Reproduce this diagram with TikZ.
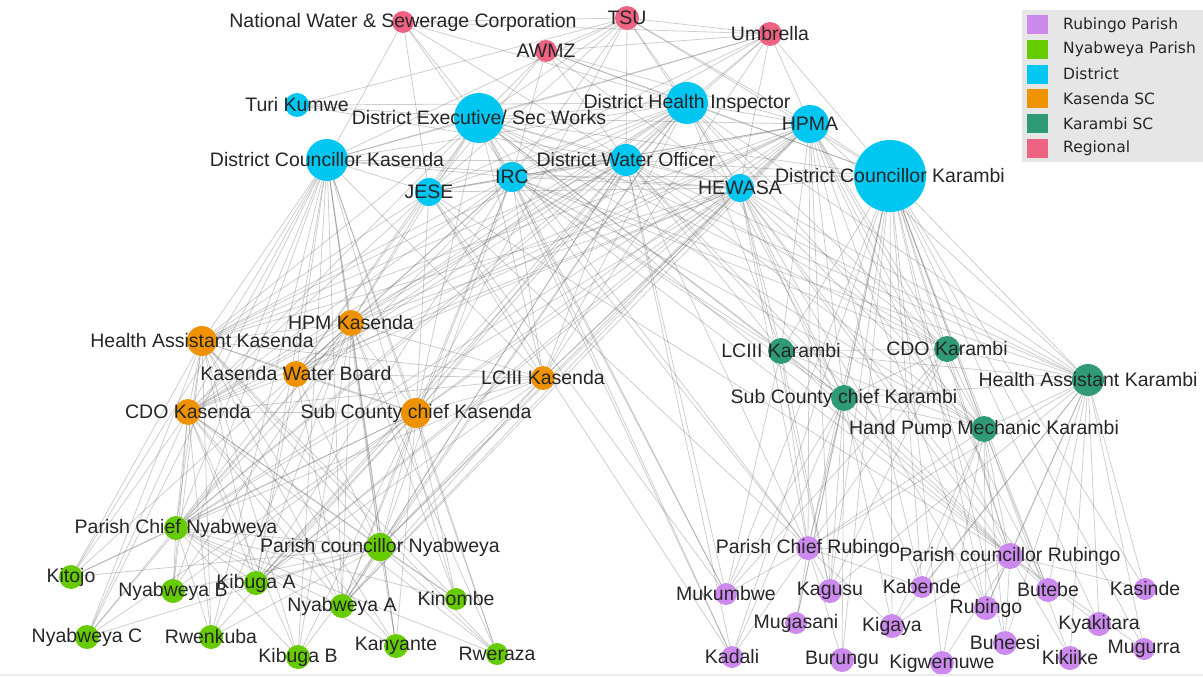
\documentclass[tikz,border=0pt]{standalone}
\usepackage{fontspec}
\setmainfont{Liberation Sans}
\newfontfamily\keyfont{DejaVu Sans}
\usetikzlibrary{backgrounds}
\definecolor{rub}{HTML}{CC8AEE}
\definecolor{nya}{HTML}{66CC00}
\definecolor{dis}{HTML}{00C6F2}
\definecolor{kas}{HTML}{EF9200}
\definecolor{kar}{HTML}{2E9A76}
\definecolor{reg}{HTML}{EE6282}
\definecolor{txt}{HTML}{262626}
\definecolor{keybg}{HTML}{E6E6E6}
\tikzset{
  vtx/.style  ={circle, inner sep=0pt, draw=none, minimum size=#1},
  rg/.style   ={vtx=#1, fill=reg},
  ds/.style   ={vtx=#1, fill=dis},
  ks/.style   ={vtx=#1, fill=kas},
  kr/.style   ={vtx=#1, fill=kar},
  ny/.style   ={vtx=#1, fill=nya},
  rb/.style   ={vtx=#1, fill=rub},
  lbl/.style  ={font=\fontsize{19.5}{21}\selectfont, text=txt, inner sep=0pt},
  tie/.style  ={draw=black!60, line width=.8pt, opacity=.32},
  swatch/.style={minimum width=21pt, minimum height=19pt, inner sep=0pt},
  keytxt/.style={font=\keyfont\fontsize{15.5}{17}\selectfont, text=txt, inner sep=0pt, anchor=west},
}

\begin{document}
\begin{tikzpicture}[x=1pt,y=-1pt]
  \useasboundingbox (0,0) rectangle (1203,677);
  % regional
  \node[rg=22pt, label={[lbl]center:National Water \& Sewerage Corporation}](nwsc) at (403,22) {};
  \node[rg=24pt, label={[lbl]center:TSU}](tsu) at (627,18) {};
  \node[rg=22pt, label={[lbl]center:AWMZ}](awmz) at (546,51) {};
  \node[rg=24pt, label={[lbl]center:Umbrella}](umb) at (770,34) {};
  % district
  \node[ds=24pt, label={[lbl]center:Turi Kumwe}](turi) at (297,105) {};
  \node[ds=50pt, label={[lbl]center:District Executive/ Sec Works}](dexec) at (479,118) {};
  \node[ds=42pt, label={[lbl]center:District Health Inspector}](dhi) at (687,103) {};
  \node[ds=38pt, label={[lbl]center:HPMA}](hpma) at (810,124) {};
  \node[ds=42pt, label={[lbl]center:District Councillor Kasenda}](dck) at (327,160) {};
  \node[ds=32pt, label={[lbl]center:District Water Officer}](dwo) at (626,160) {};
  \node[ds=30pt, label={[lbl]center:IRC}](irc) at (512,177) {};
  \node[ds=28pt, label={[lbl]center:JESE}](jese) at (429,192) {};
  \node[ds=28pt, label={[lbl]center:HEWASA}](hewasa) at (740,188) {};
  \node[ds=72pt, label={[lbl]center:District Councillor Karambi}](dckar) at (890,176) {};
  % Kasenda SC
  \node[ks=30pt, label={[lbl]center:Health Assistant Kasenda}](hak) at (202,341) {};
  \node[ks=26pt, label={[lbl]center:HPM Kasenda}](hpmk) at (351,323) {};
  \node[ks=26pt, label={[lbl]center:Kasenda Water Board}](kwb) at (296,374) {};
  \node[ks=24pt, label={[lbl]center:LCIII Kasenda}](lck) at (543,378) {};
  \node[ks=26pt, label={[lbl]center:CDO Kasenda}](cdok) at (188,412) {};
  \node[ks=30pt, label={[lbl]center:Sub County chief Kasenda}](sck) at (416,413) {};
  % Karambi SC
  \node[kr=26pt, label={[lbl]center:LCIII Karambi}](lcr) at (781,351) {};
  \node[kr=26pt, label={[lbl]center:CDO Karambi}](cdor) at (947,349) {};
  \node[kr=32pt, label={[lbl]center:Health Assistant Karambi}](har) at (1088,380) {};
  \node[kr=26pt, label={[lbl]center:Sub County chief Karambi}](scr) at (844,398) {};
  \node[kr=26pt, label={[lbl]center:Hand Pump Mechanic Karambi}](hpmr) at (984,429) {};
  % Nyabweya parish
  \node[ny=24pt, label={[lbl]center:Parish Chief Nyabweya}](pcn) at (176,528) {};
  \node[ny=28pt, label={[lbl]center:Parish councillor Nyabweya}](pcln) at (380,547) {};
  \node[ny=24pt, label={[lbl]center:Kitojo}](kitojo) at (71,577) {};
  \node[ny=24pt, label={[lbl]center:Nyabweya B}](nyab) at (173,591) {};
  \node[ny=24pt, label={[lbl]center:Kibuga A}](kiba) at (256,583) {};
  \node[ny=24pt, label={[lbl]center:Nyabweya A}](nyaa) at (342,606) {};
  \node[ny=22pt, label={[lbl]center:Kinombe}](kinombe) at (456,599) {};
  \node[ny=24pt, label={[lbl]center:Nyabweya C}](nyac) at (87,637) {};
  \node[ny=24pt, label={[lbl]center:Rwenkuba}](rwenkuba) at (211,637) {};
  \node[ny=24pt, label={[lbl]center:Kibuga B}](kibb) at (298,657) {};
  \node[ny=24pt, label={[lbl]center:Kanyante}](kanyante) at (396,646) {};
  \node[ny=22pt, label={[lbl]center:Rweraza}](rweraza) at (497,654) {};
  % Rubingo parish
  \node[rb=24pt, label={[lbl]center:Parish Chief Rubingo}](pcr) at (808,548) {};
  \node[rb=26pt, label={[lbl]center:Parish councillor Rubingo}](pclr) at (1010,556) {};
  \node[rb=22pt, label={[lbl]center:Mukumbwe}](mukumbwe) at (726,594) {};
  \node[rb=24pt, label={[lbl]center:Kagusu}](kagusu) at (830,591) {};
  \node[rb=22pt, label={[lbl]center:Kabende}](kabende) at (922,587) {};
  \node[rb=24pt, label={[lbl]center:Butebe}](butebe) at (1048,590) {};
  \node[rb=22pt, label={[lbl]center:Kasinde}](kasinde) at (1145,589) {};
  \node[rb=24pt, label={[lbl]center:Rubingo}](rubingo) at (986,608) {};
  \node[rb=22pt, label={[lbl]center:Mugasani}](mugasani) at (796,623) {};
  \node[rb=24pt, label={[lbl]center:Kigaya}](kigaya) at (892,626) {};
  \node[rb=24pt, label={[lbl]center:Kyakitara}](kyakitara) at (1099,624) {};
  \node[rb=24pt, label={[lbl]center:Buheesi}](buheesi) at (1005,643) {};
  \node[rb=22pt, label={[lbl]center:Mugurra}](mugurra) at (1144,649) {};
  \node[rb=22pt, label={[lbl]center:Kadali}](kadali) at (732,657) {};
  \node[rb=24pt, label={[lbl]center:Burungu}](burungu) at (842,660) {};
  \node[rb=24pt, label={[lbl]center:Kigwemuwe}](kigwemuwe) at (942,663) {};
  \node[rb=24pt, label={[lbl]center:Kikiike}](kikiike) at (1070,658) {};

  \begin{scope}[on background layer]
    % regional ties
    \foreach \b in {tsu,dck,dexec,jese,irc,dwo,dhi,umb} \draw[tie](nwsc)--(\b);
    \foreach \b in {awmz,umb,dexec,dhi,dwo,irc,jese,hewasa,hpma,dckar,turi,dck,sck} \draw[tie](tsu)--(\b);
    \foreach \b in {umb,dexec,dhi,dwo,irc,jese,hewasa,hpma,dckar} \draw[tie](awmz)--(\b);
    \foreach \b in {dexec,dhi,dwo,irc,jese,hewasa,hpma,dckar,dck,lck} \draw[tie](umb)--(\b);
    % district among themselves
    \foreach \b in {turi,dck,dhi,dwo,irc,jese,hewasa,hpma,dckar} \draw[tie](dexec)--(\b);
    \foreach \b in {turi,dck,dwo,irc,jese,hewasa,hpma,dckar} \draw[tie](dhi)--(\b);
    \foreach \b in {dck,irc,jese,hewasa,hpma,dckar,turi} \draw[tie](dwo)--(\b);
    \foreach \b in {dck,jese,hewasa,hpma,dckar} \draw[tie](irc)--(\b);
    \foreach \b in {dck,hewasa,hpma} \draw[tie](jese)--(\b);
    \foreach \b in {hpma,dckar,dck} \draw[tie](hewasa)--(\b);
    \draw[tie](hpma)--(dckar);
    % district to sub counties
    \foreach \a in {dexec,dhi,dwo,irc,jese,hewasa,hpma,dck}
      \foreach \b in {hak,hpmk,kwb,lck,cdok,sck}
        \draw[tie](\a)--(\b);
    \foreach \a in {dexec,dhi,dwo,irc,hewasa,hpma,dckar}
      \foreach \b in {lcr,cdor,har,scr,hpmr}
        \draw[tie](\a)--(\b);
    % councillor fans
    \foreach \b in {pcn,pcln,kitojo,nyab,kiba,nyaa,kinombe,nyac,rwenkuba,kibb,kanyante,rweraza}
      \draw[tie](dck)--(\b);
    \foreach \b in {pcr,pclr,mukumbwe,kagusu,kabende,butebe,kasinde,rubingo,mugasani,kigaya,kyakitara,buheesi,mugurra,kadali,burungu,kigwemuwe,kikiike}
      \draw[tie](dckar)--(\b);
    % Kasenda SC inside and down
    \foreach \a/\b in {hak/hpmk,hak/kwb,hak/lck,hak/cdok,hak/sck,hpmk/kwb,hpmk/lck,hpmk/cdok,hpmk/sck,kwb/lck,kwb/cdok,kwb/sck,lck/cdok,lck/sck,cdok/sck}
      \draw[tie](\a)--(\b);
    \foreach \a in {hak,cdok,sck,hpmk}
      \foreach \b in {pcn,pcln,kitojo,nyab,kiba,nyaa,kinombe,nyac,rwenkuba,kibb,kanyante,rweraza}
        \draw[tie](\a)--(\b);
    \foreach \a in {kwb,lck}
      \foreach \b in {pcn,pcln,kiba,nyaa}
        \draw[tie](\a)--(\b);
    % Karambi SC inside and down
    \foreach \a/\b in {lcr/cdor,lcr/har,lcr/scr,lcr/hpmr,cdor/har,cdor/scr,cdor/hpmr,har/scr,har/hpmr,scr/hpmr}
      \draw[tie](\a)--(\b);
    \foreach \b in {pcr,pclr,kabende,butebe,kasinde,rubingo,kyakitara,buheesi,mugurra,kikiike,kigaya,kagusu}
      \draw[tie](har)--(\b);
    \foreach \b in {pcr,pclr,mukumbwe,kagusu,mugasani,kadali,burungu,kigaya}
      \draw[tie](scr)--(\b);
    \foreach \b in {pcr,pclr,kabende,rubingo,buheesi,kigwemuwe,butebe,kigaya}
      \draw[tie](hpmr)--(\b);
    \foreach \a in {lcr,cdor}
      \foreach \b in {pcr,pclr,kagusu,mukumbwe}
        \draw[tie](\a)--(\b);
    % parishes
    \draw[tie](pcn)--(pcln);
    \foreach \a in {pcn,pcln}
      \foreach \b in {kitojo,nyab,kiba,nyaa,kinombe,nyac,rwenkuba,kibb,kanyante,rweraza}
        \draw[tie](\a)--(\b);
    \draw[tie](pcr)--(pclr);
    \foreach \b in {mukumbwe,kagusu,mugasani,kadali,burungu,kigaya,kabende}
      \draw[tie](pcr)--(\b);
    \foreach \b in {kabende,butebe,kasinde,rubingo,kyakitara,buheesi,mugurra,kikiike,kigwemuwe,kigaya}
      \draw[tie](pclr)--(\b);
    % long ties from the district
    \foreach \a in {dhi,dwo,hewasa,hpma,irc}
      \foreach \b in {pcn,pcln,kiba,nyaa}
        \draw[tie](\a)--(\b);
    \foreach \a in {dexec,irc,jese,dwo}
      \foreach \b in {pcr,pclr,mukumbwe,kadali}
        \draw[tie](\a)--(\b);
    \foreach \a in {hewasa,hpma}
      \foreach \b in {pcr,pclr,kagusu,kabende,rubingo,butebe}
        \draw[tie](\a)--(\b);
  \end{scope}

  % legend
  \node[fill=keybg, minimum width=181pt, minimum height=152pt, inner sep=0pt](key) at (1112.5,86) {};
  \foreach \c/\t [count=\i] in {rub/Rubingo Parish,nya/Nyabweya Parish,dis/District,kas/Kasenda SC,kar/Karambi SC,reg/Regional}{
    \node[swatch, fill=\c](sw\i) at (1037.5,{25+24.6*(\i-1)}) {};
    \node[keytxt](kt\i) at (1063,{25+24.6*(\i-1)}) {\t};
  }
  \draw[black!8, line width=2pt](0,675)--(1203,675);
\end{tikzpicture}
\end{document}
